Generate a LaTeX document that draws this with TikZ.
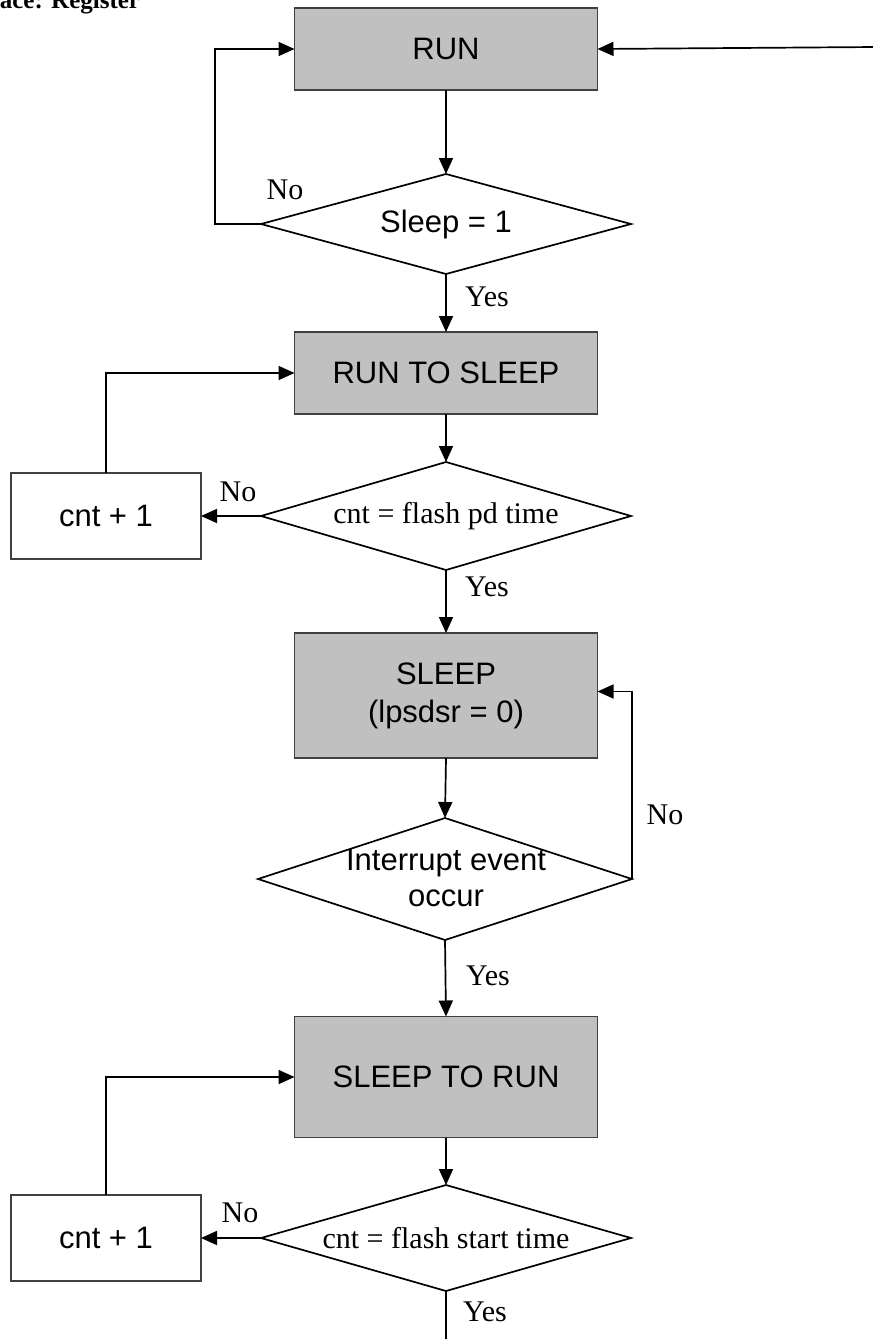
\documentclass[tikz,border=0pt]{standalone}
\usepackage{fontspec}
\setmainfont{Liberation Serif}
\setsansfont{Liberation Sans}
\usetikzlibrary{arrows.meta,shapes.geometric}
\definecolor{boxgray}{RGB}{192,192,192}
\definecolor{edgegray}{RGB}{64,64,64}
\begin{document}
\begin{tikzpicture}[x=1pt,y=-1pt,
  line width=1.7pt,
  arr/.style={-{Triangle[length=16pt,width=14pt]}},
  state/.style={draw=edgegray, line width=1.2pt, fill=boxgray, minimum width=303pt, inner sep=0pt, outer sep=0pt,
    font=\sffamily\fontsize{31}{36}\selectfont, align=center},
  cntbox/.style={draw=edgegray, line width=1.2pt, fill=white, minimum width=190pt, minimum height=86pt, inner sep=0pt,
    outer sep=0pt, font=\sffamily\fontsize{31}{36}\selectfont},
  decision/.style={draw, diamond, inner sep=0pt, outer sep=0pt},
  dtext/.style={inner sep=0pt, align=center},
  lbl/.style={inner sep=0pt, font=\fontsize{30}{35}\selectfont}
]
\useasboundingbox (0,0) rectangle (873,1339);
\clip (0,0) rectangle (873,1339);

% heading, cut by the top edge
\node[anchor=base west, inner sep=0pt, font=\bfseries\fontsize{25}{30}\selectfont] (title) at (-1,8) {ace: Register};

% states
\node[state, minimum height=82pt] (run) at (446,49) {RUN};
\node[state, minimum height=82pt] (rts) at (446,373) {RUN TO SLEEP};
\node[state, minimum height=125pt] (sleep) at (446,695.5) {SLEEP\\[2pt](lpsdsr = 0)};
\node[state, minimum height=121pt] (str) at (446,1077) {SLEEP TO RUN};

% decisions
\node[decision, minimum width=370pt, minimum height=100pt] (d1) at (446,224) {};
\node[dtext, font=\sffamily\fontsize{31}{36}\selectfont] (t1) at (446,224) {Sleep = 1};
\node[decision, minimum width=370pt, minimum height=108pt] (d2) at (446,516) {};
\node[dtext, font=\fontsize{30}{35}\selectfont] (t2) at (446,516) {cnt = flash pd time};
\node[decision, minimum width=374pt, minimum height=122pt] (d3) at (445,879) {};
\node[dtext, font=\sffamily\fontsize{31}{36}\selectfont] (t3) at (446,878) {Interrupt event\\occur};
\node[decision, minimum width=370pt, minimum height=106pt] (d4) at (446,1238) {};
\node[dtext, font=\fontsize{30}{35}\selectfont] (t4) at (446,1238) {cnt = flash start time};

% counters
\node[cntbox] (c1) at (106,516) {cnt + 1};
\node[cntbox] (c2) at (106,1238) {cnt + 1};

% free ends
\coordinate (entry) at (876,47);
\coordinate (exit) at (446,1345);

% main flow
\draw[arr] (entry) -- (run.east);
\draw[arr] (run.south) -- (d1.north);
\draw[arr] (d1.south) -- (rts.north);
\draw[arr] (rts.south) -- (d2.north);
\draw[arr] (d2.south) -- (sleep.north);
\draw[arr] (sleep.south) -- (d3.north);
\draw[arr] (d3.south) -- (str.north);
\draw[arr] (str.south) -- (d4.north);
\draw (d4.south) -- (exit);

% loops
\draw[arr] (d1.west) -- ++(-46,0) |- (run.west);
\draw[arr] (d2.west) -- (c1.east);
\draw[arr] (c1.north) |- (rts.west);
\draw[arr] (d3.east) |- ([yshift=4pt]sleep.east);
\draw[arr] (d4.west) -- (c2.east);
\draw[arr] (c2.north) |- (str.west);

% branch labels
\node[lbl] (no1) at (285,190) {No};
\node[lbl] (yes1) at (487,297) {Yes};
\node[lbl] (no2) at (238,492) {No};
\node[lbl] (yes2) at (487,587) {Yes};
\node[lbl] (no3) at (665,815) {No};
\node[lbl] (yes3) at (488,976) {Yes};
\node[lbl] (no4) at (240,1213) {No};
\node[lbl] (yes4) at (485,1312) {Yes};
\end{tikzpicture}
\end{document}
